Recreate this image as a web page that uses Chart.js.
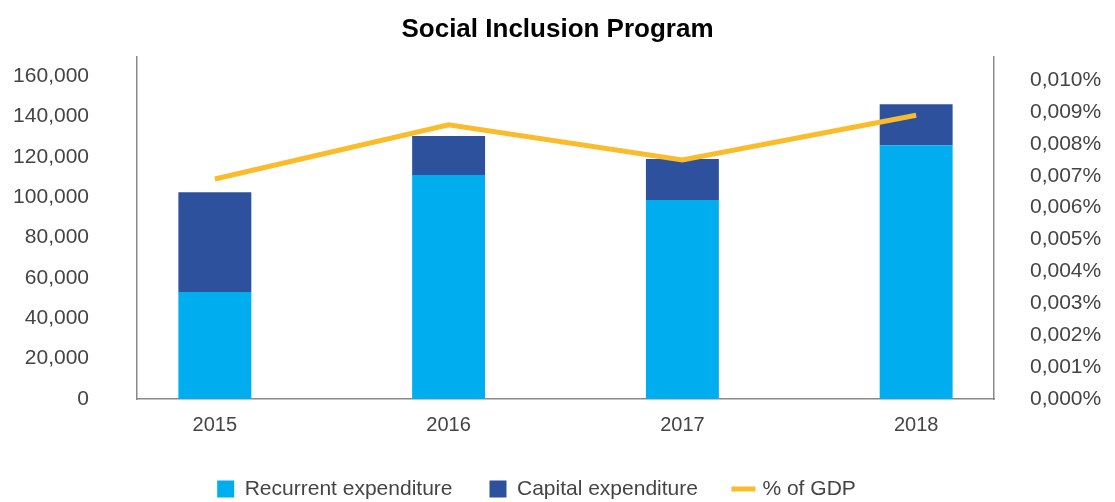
<!DOCTYPE html>
<html>
<head>
<meta charset="utf-8">
<title>Social Inclusion Program</title>
<script src="https://cdn.jsdelivr.net/npm/chart.js@4/dist/chart.umd.min.js"></script>
<style>
  html, body { margin: 0; padding: 0; background: #fff; }
  #wrap { width: 1115px; height: 502px; }
</style>
</head>
<body>
<div id="wrap"><canvas id="chartSocial"></canvas></div>
<script>
const categories = ['2015', '2016', '2017', '2018'];
const recurrent = [53000, 111000, 98600, 125800];
const capital = [49500, 19300, 20300, 20300];
const gdpShare = [0.0069, 0.0086, 0.0075, 0.0089];
const leftTicks = [0, 20000, 40000, 60000, 80000, 100000, 120000, 140000, 160000];
const rightTicks = [0, 0.001, 0.002, 0.003, 0.004, 0.005, 0.006, 0.007, 0.008, 0.009, 0.010];

const font = "'Liberation Sans', Arial, sans-serif";
const grey = '#444';
const axisColor = '#8a8a8a';

// bars sit on a linear x axis so the side margins can be narrower than a category slot
const toPoints = arr => arr.map((v, i) => ({ x: i, y: v }));

// nudge the legend a little left of centre
const legendShift = {
  id: 'legendShift',
  afterLayout(chart) {
    chart.legend.left -= 21;
    chart.legend.right -= 21;
  }
};

// fixed width for a y axis, without the extra room reserved above/below for labels
const fixWidth = w => s => {
  s.width = w;
  s.paddingTop = 0;
  s.paddingBottom = 0;
};

const ctx = document.getElementById('chartSocial').getContext('2d');
new Chart(ctx, {
  type: 'bar',
  plugins: [legendShift],
  data: {
    datasets: [
      {
        label: 'Recurrent expenditure',
        data: toPoints(recurrent),
        backgroundColor: '#00AEEF',
        pointStyle: 'rect',
        yAxisID: 'y',
        order: 1
      },
      {
        label: 'Capital expenditure',
        data: toPoints(capital),
        backgroundColor: '#2E519E',
        pointStyle: 'rect',
        yAxisID: 'y',
        order: 1
      },
      {
        type: 'line',
        label: '% of GDP',
        data: toPoints(gdpShare),
        yAxisID: 'y1',
        borderColor: '#FBBC2C',
        backgroundColor: '#FBBC2C',
        borderWidth: 5,
        pointRadius: 0,
        pointStyle: 'line',
        tension: 0,
        order: 0
      }
    ]
  },
  options: {
    responsive: true,
    maintainAspectRatio: false,
    animation: false,
    barPercentage: 0.312,
    categoryPercentage: 1,
    layout: { padding: { left: 0, right: 0, top: 0, bottom: -7.5 } },
    plugins: {
      title: {
        display: true,
        text: 'Social Inclusion Program',
        color: '#000',
        font: { family: font, size: 26, weight: 'bold' },
        padding: { top: 14, bottom: 12 }
      },
      legend: {
        position: 'bottom',
        labels: {
          usePointStyle: true,
          boxWidth: 17,
          boxHeight: 17,
          padding: 37,
          color: grey,
          font: { family: font, size: 21 },
          sort: (a, b) => a.datasetIndex - b.datasetIndex
        }
      },
      tooltip: { enabled: false }
    },
    scales: {
      x: {
        type: 'linear',
        min: -0.333,
        max: 3.333,
        offset: false,
        stacked: true,
        grid: { display: false, drawTicks: false, offset: false },
        border: { display: true, color: axisColor, width: 1.5 },
        afterBuildTicks: s => { s.ticks = categories.map((c, i) => ({ value: i })); },
        afterFit: s => { s.height = 42.5; },
        ticks: {
          padding: 14,
          color: grey,
          font: { family: font, size: 20 },
          callback: v => categories[v]
        }
      },
      y: {
        position: 'left',
        stacked: true,
        min: 0,
        max: 169400,
        grid: { display: false, drawTicks: false },
        border: { display: true, color: axisColor, width: 1.5 },
        afterBuildTicks: s => { s.ticks = leftTicks.map(v => ({ value: v })); },
        afterFit: fixWidth(137),
        ticks: {
          padding: 48,
          color: grey,
          font: { family: font, size: 21 },
          callback: v => v.toLocaleString('en-US')
        }
      },
      y1: {
        position: 'right',
        min: 0,
        max: 0.01072,
        grid: { display: false, drawTicks: false },
        border: { display: true, color: axisColor, width: 1.5 },
        afterBuildTicks: s => { s.ticks = rightTicks.map(v => ({ value: v })); },
        afterFit: fixWidth(121),
        ticks: {
          padding: 36,
          color: grey,
          font: { family: font, size: 21 },
          callback: v => v.toFixed(3).replace('.', ',') + '%'
        }
      }
    }
  }
});
</script>
</body>
</html>
